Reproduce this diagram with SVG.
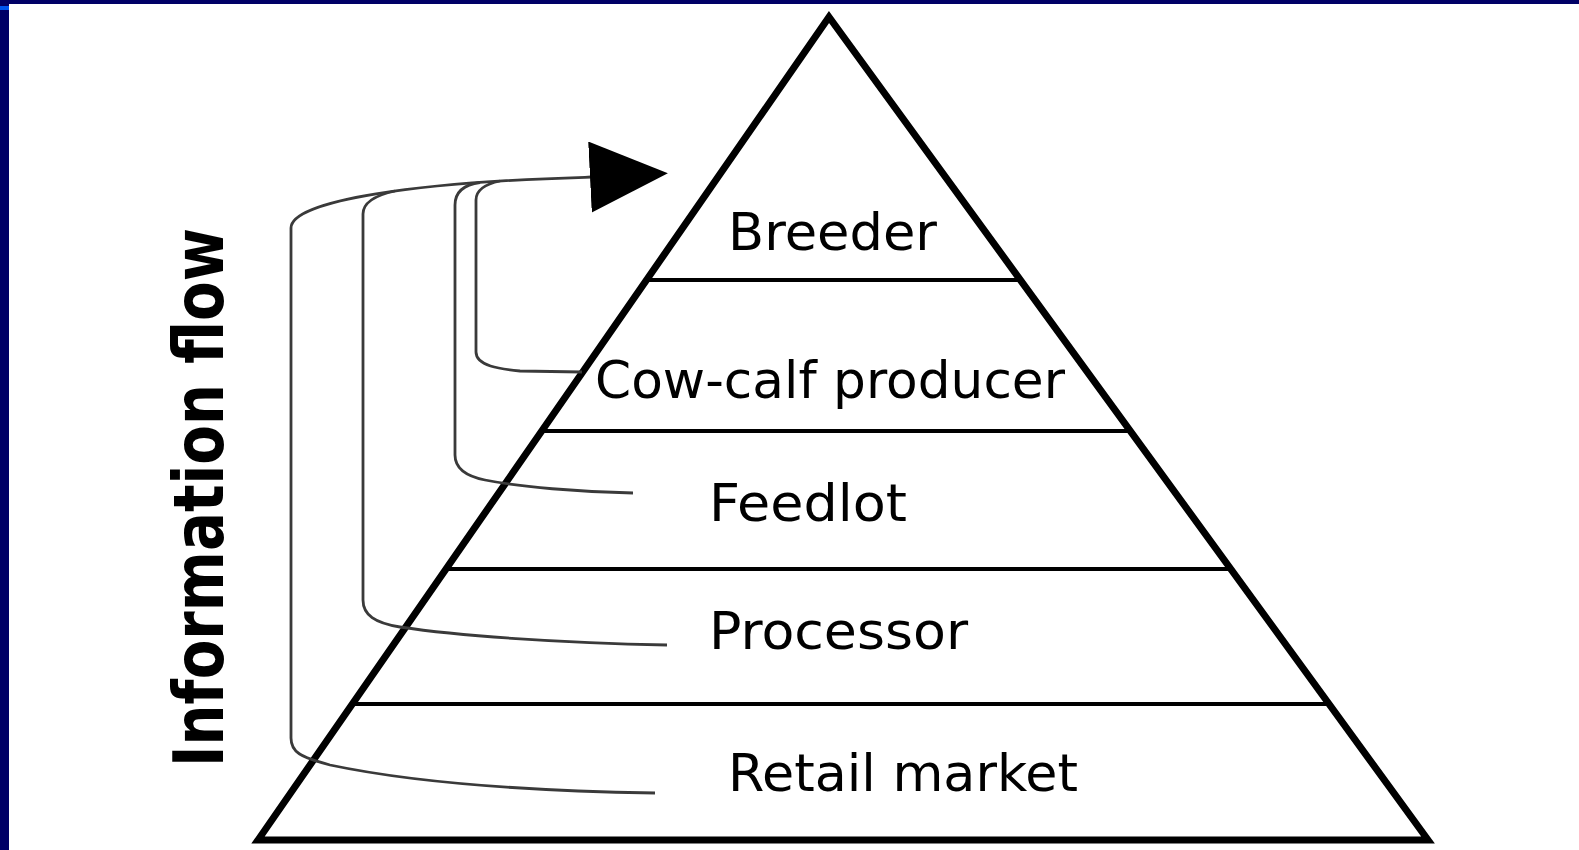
<svg xmlns="http://www.w3.org/2000/svg" width="1579" height="850" viewBox="0 0 1579 850">
  <style>
    .tier { stroke: #000; stroke-width: 4; fill: none; }
    .label { font-family: "DejaVu Sans", "Liberation Sans", sans-serif; font-size: 51px; fill: #000; }
    .flow { fill: none; stroke: #3a3a3a; stroke-width: 2.8; stroke-linejoin: round; }
  </style>
  <defs>
    <marker id="head" markerUnits="userSpaceOnUse" markerWidth="80" markerHeight="72" viewBox="0 0 80 72" refX="1" refY="35.5" orient="auto">
      <path d="M0,0 L78,35.5 L0,71 Z" fill="#000"/>
    </marker>
  </defs>

  <!-- page frame -->
  <rect x="0" y="0" width="1579" height="850" fill="#fff"/>
  <rect x="0" y="0" width="1579" height="4" fill="#000066"/>
  <rect x="0" y="0" width="9" height="850" fill="#000066"/>
  <rect x="0" y="6" width="9" height="4" fill="#0055ee"/>

  <!-- pyramid outline and tier dividers -->
  <g id="pyramid">
    <polygon points="829,17 258,840 1428,840" fill="none" stroke="#000" stroke-width="7"/>
    <line class="tier" x1="646" y1="280" x2="1021" y2="280"/>
    <line class="tier" x1="542" y1="431" x2="1130" y2="431"/>
    <line class="tier" x1="446" y1="569" x2="1231" y2="569"/>
    <line class="tier" x1="352" y1="704" x2="1329" y2="704"/>
  </g>

  <g id="breeder"><text class="label" x="728" y="250" textLength="209" lengthAdjust="spacingAndGlyphs">Breeder</text></g>
  <g id="cow-calf"><text class="label" x="595" y="398" font-size="47" textLength="470" lengthAdjust="spacingAndGlyphs">Cow-calf producer</text></g>
  <g id="feedlot"><text class="label" x="709" y="521" textLength="198" lengthAdjust="spacingAndGlyphs">Feedlot</text></g>
  <g id="processor"><text class="label" x="709" y="649" textLength="259" lengthAdjust="spacingAndGlyphs">Processor</text></g>
  <g id="retail"><text class="label" x="728" y="791" textLength="350" lengthAdjust="spacingAndGlyphs">Retail market</text></g>

  <g id="flow-label">
    <text transform="translate(223,767) rotate(-90)" font-family="'DejaVu Sans', 'Liberation Sans', sans-serif" font-weight="bold" font-size="70" textLength="539" lengthAdjust="spacingAndGlyphs">Information flow</text>
  </g>

  <!-- feedback lines converging on the arrow -->
  <g id="connectors">
    <path class="flow" d="M655,793 C530,791 420,784 330,765 C300,757 291,752 291,738 L291,228 C291,200 420,182 585,177.3 L591,177" marker-end="url(#head)"/>
    <path class="flow" d="M667,645 C560,643 460,636 400,627 C375,623 363,615 363,600 L363,214 Q363,198 395,191"/>
    <path class="flow" d="M633,493 C580,492 520,487 485,480 Q455,474 455,455 L455,205 Q455,186 480,182.5"/>
    <path class="flow" d="M582,372 L520,371 C500,369 476,366 476,352 L476,200 Q476,186 500,181"/>
  </g>
</svg>
